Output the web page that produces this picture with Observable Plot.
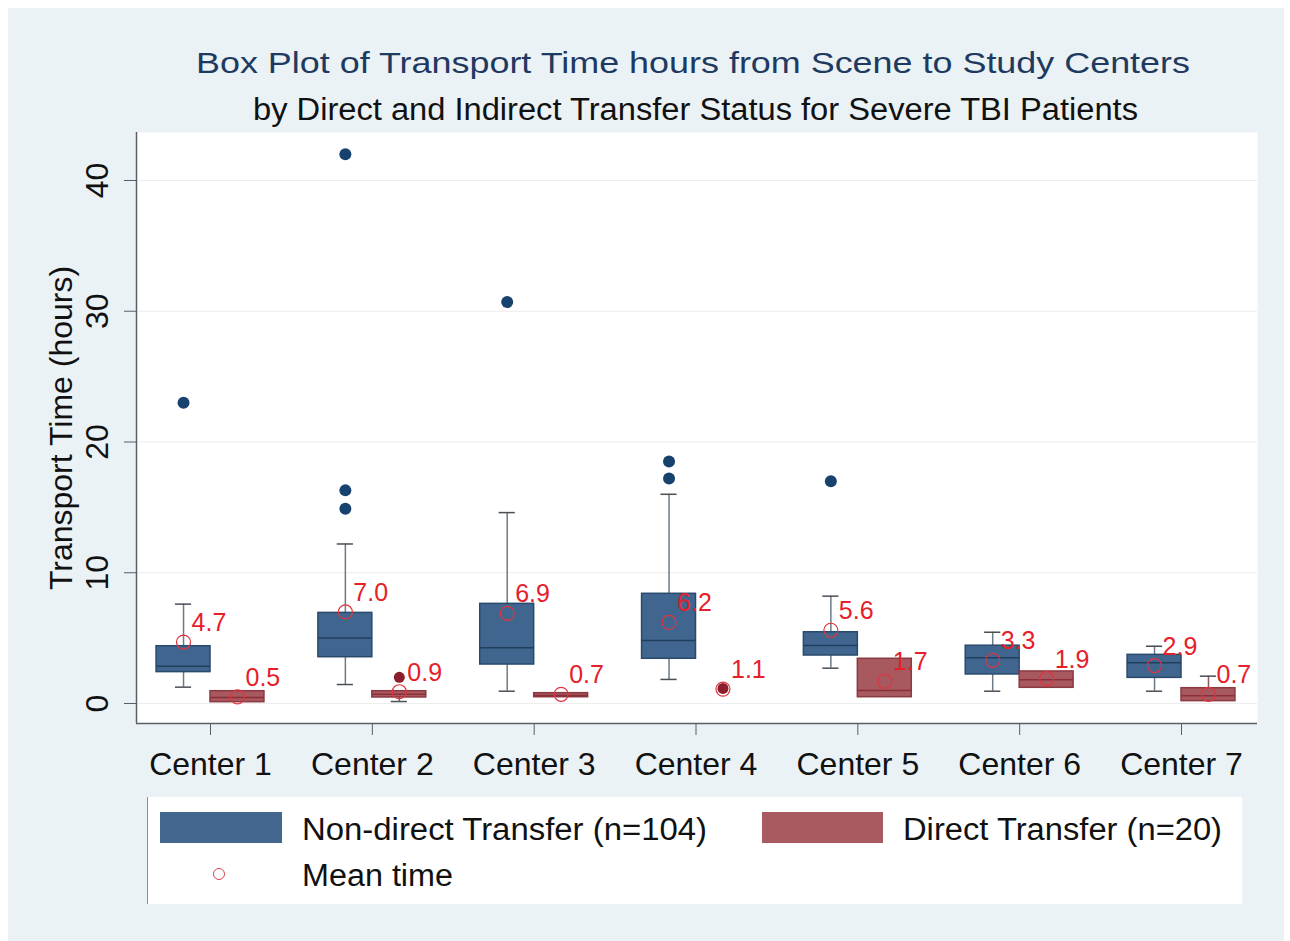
<!DOCTYPE html>
<html>
<head>
<meta charset="utf-8">
<script src="https://cdn.jsdelivr.net/npm/d3@7"></script>
<script src="https://cdn.jsdelivr.net/npm/@observablehq/plot@0.6"></script>
<style>
  html, body { margin: 0; padding: 0; background: #ffffff; }
  body { width: 1290px; height: 941px; position: relative; overflow: hidden;
         font-family: "Liberation Sans", Arial, Helvetica, sans-serif; }
  #bg { position: absolute; left: 8px; top: 8px; width: 1276px; height: 933px; background: #eaf2f5; }
  .txt { position: absolute; white-space: nowrap; line-height: 1; transform-origin: 0 0; }
  #chart { position: absolute; left: 0; top: 0; }
  #legend { position: absolute; left: 147px; top: 797px; width: 1094px; height: 107px;
            background: #ffffff; border-left: 1.5px solid #8a8f94; }
  .sw { position: absolute; }
</style>
</head>
<body>
<div id="bg"></div>
<div id="chart"></div>
<div id="legend"></div>
<div class="txt" id="title" style="font-size:30px;color:#1f3a60;">Box Plot of Transport Time hours from Scene to Study Centers</div>
<div class="txt" id="subtitle" style="font-size:31px;color:#111;">by Direct and Indirect Transfer Status for Severe TBI Patients</div>
<div class="sw" style="left:160px;top:812px;width:122px;height:31px;background:#44678f;"></div>
<div class="sw" style="left:762px;top:812px;width:121px;height:31px;background:#a95a60;"></div>
<svg class="sw" style="left:210px;top:865px;" width="18" height="18"><circle cx="9" cy="9" r="5.5" fill="none" stroke="#d9434c" stroke-width="1"/></svg>
<div class="txt" id="leg1" style="font-size:31px;color:#111;">Non-direct Transfer (n=104)</div>
<div class="txt" id="leg2" style="font-size:31px;color:#111;">Direct Transfer (n=20)</div>
<div class="txt" id="leg3" style="font-size:31px;color:#111;">Mean time</div>
<script>
// ---------------- data ----------------
const categories = ["Center 1", "Center 2", "Center 3", "Center 4", "Center 5", "Center 6", "Center 7"];
const groupNames = ["Non-direct Transfer (n=104)", "Direct Transfer (n=20)"];
const yTicks = [0, 10, 20, 30, 40];

// Non-direct transfer (blue)
const nonDirectLow    = [1.25, 1.45, 0.94, 1.84, 2.70, 0.94, 0.94];
const nonDirectQ1     = [2.40, 3.54, 2.98, 3.42, 3.67, 2.22, 1.96];
const nonDirectMedian = [2.85, 5.00, 4.26, 4.82, 4.44, 3.50, 3.11];
const nonDirectQ3     = [4.38, 6.93, 7.62, 8.39, 5.45, 4.42, 3.72];
const nonDirectHigh   = [7.60, 12.2, 14.6, 16.0, 8.21, 5.45, 4.38];
const nonDirectMean   = [4.7, 7.0, 6.9, 6.2, 5.6, 3.3, 2.9];
const nonDirectOutliers = [[23.0], [42.0, 16.3, 14.9], [30.7], [18.5, 17.2], [17.0], [], []];

// Direct transfer (red)
const directLow    = [0.10, 0.15, 0.48, null, 0.48, 1.20, 0.18];
const directQ1     = [0.10, 0.46, 0.48, null, 0.48, 1.20, 0.18];
const directMedian = [0.45, 0.70, 0.62, null, 0.99, 1.81, 0.60];
const directQ3     = [0.94, 0.94, 0.79, null, 3.42, 2.45, 1.17];
const directHigh   = [0.94, 0.94, 0.79, null, 3.42, 2.45, 2.09];
const directMean   = [0.5, 0.9, 0.7, 1.1, 1.7, 1.9, 0.7];
const directOutliers = [[], [2.0], [], [1.15], [], [], []];

// ---------------- styles ----------------
const boxFill    = ["#40668f", "#a8585f"];
const boxStroke  = ["#2a4a6c", "#8b3a42"];
const medStroke  = ["#213e5d", "#8a2f38"];
const whiskerCol = ["#6f7a85", "#8a5a60"];
const outlierCol = ["#17426e", "#8c1d2b"];
const meanCol = "#e0343f";
const labelCol = "#e5202a";
const BOXW = 1 / 3;     // fraction of category spacing per box
const CAPW = 0.05;      // half cap width in category units

// ---------------- table ----------------
const stats = [
  {g: 0, lo: nonDirectLow, q1: nonDirectQ1, med: nonDirectMedian, q3: nonDirectQ3, hi: nonDirectHigh, mean: nonDirectMean, out: nonDirectOutliers},
  {g: 1, lo: directLow, q1: directQ1, med: directMedian, q3: directQ3, hi: directHigh, mean: directMean, out: directOutliers}
];
const rows = stats.flatMap(s => categories.map((c, i) => ({
  center: c, g: s.g, group: groupNames[s.g],
  x1: i + 1 - BOXW + s.g * BOXW, x2: i + 1 + s.g * BOXW, xc: i + 1 - BOXW / 2 + s.g * BOXW,
  lo: s.lo[i], q1: s.q1[i], med: s.med[i], q3: s.q3[i], hi: s.hi[i], mean: s.mean[i]
})));
const boxes = rows.filter(d => d.q1 != null);
const outliers = stats.flatMap(s => s.out.flatMap((vals, i) => vals.map(v => ({
  g: s.g, xc: i + 1 - BOXW / 2 + s.g * BOXW, value: v
}))));

const upperW = boxes.filter(d => d.hi > d.q3);
const lowerW = boxes.filter(d => d.lo < d.q1);

const xDomain = [0.5427, 7.4696];
const yDomain = [-1.53, 43.67];

const plot = Plot.plot({
  width: 1290,
  height: 790,
  marginTop: 132,
  marginLeft: 136,
  marginRight: 33,
  marginBottom: 67,
  x: {domain: xDomain, axis: null},
  y: {domain: yDomain, axis: null},
  style: {background: "transparent", fontFamily: "'Liberation Sans', Arial, sans-serif", color: "#111"},
  marks: [
    Plot.frame({fill: "white", stroke: "none"}),
    Plot.ruleY(yTicks, {stroke: "#ededed", strokeWidth: 1}),
    // axis lines
    Plot.ruleX([xDomain[0]], {stroke: "#5a5f66", strokeWidth: 1.5}),
    Plot.ruleY([yDomain[0]], {stroke: "#5a5f66", strokeWidth: 1.5}),
    // y ticks + labels
    Plot.axisY({ticks: yTicks, tickSize: 12, tickFormat: () => "", label: null, stroke: "#5a5f66"}),
    Plot.text(yTicks, {y: d => d, text: d => String(d), frameAnchor: "left", dx: -39, rotate: -90,
      fontSize: 32, textAnchor: "middle", lineAnchor: "middle", fill: "#111"}),
    Plot.text(["Transport Time (hours)"], {text: d => d, frameAnchor: "left", dx: -75, rotate: -90,
      fontSize: 32, textAnchor: "middle", lineAnchor: "middle", fill: "#111"}),
    // x ticks + labels
    Plot.axisX({ticks: categories.map((c, i) => i + 1), tickFormat: i => categories[i - 1],
      tickSize: 12, tickPadding: 17, fontSize: 32, label: null, stroke: "#5a5f66", fill: "#111"}),
    // whiskers
    Plot.ruleX(upperW, {x: "xc", y1: "q3", y2: "hi", stroke: d => whiskerCol[d.g], strokeWidth: 1.5}),
    Plot.ruleX(lowerW, {x: "xc", y1: "lo", y2: "q1", stroke: d => whiskerCol[d.g], strokeWidth: 1.5}),
    Plot.ruleY(upperW, {y: "hi", x1: d => d.xc - CAPW, x2: d => d.xc + CAPW, stroke: "#4a4f55", strokeWidth: 1.5}),
    Plot.ruleY(lowerW, {y: "lo", x1: d => d.xc - CAPW, x2: d => d.xc + CAPW, stroke: "#4a4f55", strokeWidth: 1.5}),
    // boxes
    Plot.rect(boxes, {x1: "x1", x2: "x2", y1: "q1", y2: "q3", fill: d => boxFill[d.g], stroke: d => boxStroke[d.g], strokeWidth: 1.5}),
    Plot.ruleY(boxes, {y: "med", x1: "x1", x2: "x2", stroke: d => medStroke[d.g], strokeWidth: 1.5}),
    // outliers
    Plot.dot(outliers.filter(d => d.g === 0), {x: "xc", y: "value", r: 6, fill: outlierCol[0], stroke: "none"}),
    Plot.dot(outliers.filter(d => d.g === 1), {x: "xc", y: "value", r: 5.5, fill: outlierCol[1], stroke: "none"}),
    // means
    Plot.dot(rows, {x: "xc", y: "mean", r: 7, fill: "none", stroke: meanCol, strokeWidth: 1.2}),
    Plot.text(rows, {x: "xc", y: "mean", text: d => d.mean.toFixed(1), dx: 8, dy: -11,
      textAnchor: "start", lineAnchor: "bottom", fontSize: 25, fill: labelCol})
  ]
});
document.getElementById("chart").appendChild(plot);

// ---------------- text placement (fit widths of reference) ----------------
function place(id, left, baseline, targetWidth) {
  const el = document.getElementById(id);
  const fs = parseFloat(el.style.fontSize);
  const w = el.getBoundingClientRect().width;
  el.style.left = left + "px";
  el.style.top = (baseline - 0.8465 * fs) + "px";
  el.style.transform = `scaleX(${targetWidth / w})`;
}
place("title", 196, 73.5, 994);
place("subtitle", 253, 120, 885);
place("leg1", 302, 840, 405);
place("leg2", 903, 840, 319);
place("leg3", 302, 886, 151);
</script>
</body>
</html>
